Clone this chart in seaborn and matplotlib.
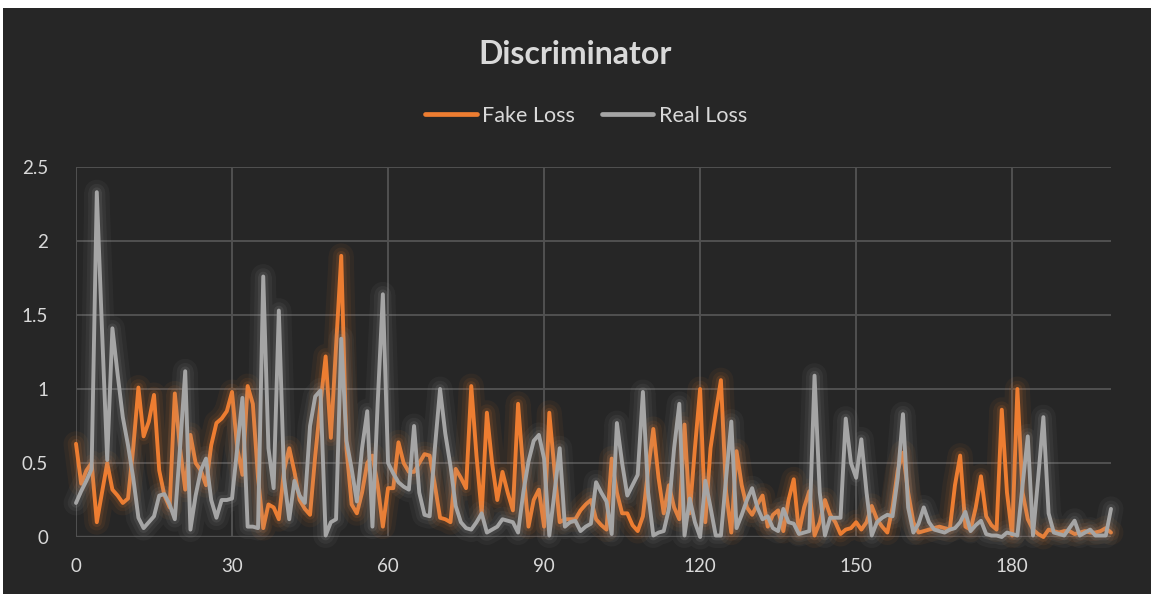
import numpy as np
import pandas as pd
import matplotlib
matplotlib.use("Agg")
import matplotlib.pyplot as plt
import matplotlib.patheffects as pe
from matplotlib.patches import Rectangle
import seaborn as sns

# values (one per step, 0..199)
fake_loss = [
    0.63, 0.36, 0.45, 0.5, 0.1, 0.3, 0.5, 0.32, 0.28, 0.23,
    0.26, 0.6, 1.01, 0.68, 0.78, 0.96, 0.45, 0.28, 0.2, 0.97,
    0.6, 0.32, 0.69, 0.5, 0.45, 0.35, 0.62, 0.77, 0.8, 0.85,
    0.98, 0.6, 0.42, 1.02, 0.9, 0.4, 0.06, 0.22, 0.2, 0.12,
    0.45, 0.6, 0.44, 0.25, 0.19, 0.15, 0.55, 0.9, 1.22, 0.67,
    1.28, 1.9, 0.6, 0.22, 0.16, 0.3, 0.5, 0.55, 0.35, 0.07,
    0.33, 0.33, 0.64, 0.5, 0.44, 0.44, 0.5, 0.56, 0.55, 0.35,
    0.13, 0.12, 0.1, 0.46, 0.4, 0.33, 1.02, 0.55, 0.16, 0.84,
    0.5, 0.25, 0.44, 0.3, 0.18, 0.9, 0.45, 0.07, 0.25, 0.32,
    0.07, 0.84, 0.45, 0.1, 0.12, 0.12, 0.12, 0.18, 0.22, 0.25,
    0.12, 0.08, 0.05, 0.53, 0.3, 0.16, 0.16, 0.08, 0.04, 0.14,
    0.45, 0.73, 0.4, 0.16, 0.35, 0.2, 0.12, 0.76, 0.16, 0.6,
    1.0, 0.1, 0.6, 0.84, 1.06, 0.3, 0.03, 0.58, 0.35, 0.2,
    0.15, 0.22, 0.28, 0.07, 0.15, 0.18, 0.04, 0.25, 0.39, 0.03,
    0.2, 0.31, 0.01, 0.1, 0.25, 0.15, 0.1, 0.02, 0.05, 0.06,
    0.1, 0.05, 0.1, 0.21, 0.12, 0.07, 0.03, 0.2, 0.45, 0.57,
    0.3, 0.1, 0.03, 0.04, 0.05, 0.06, 0.07, 0.06, 0.05, 0.35,
    0.55, 0.07, 0.05, 0.2, 0.41, 0.14, 0.08, 0.05, 0.86, 0.3,
    0.01, 1.0, 0.3, 0.12, 0.05, 0.02, 0.0, 0.05, 0.04, 0.03,
    0.04, 0.04, 0.02, 0.03, 0.04, 0.03, 0.03, 0.04, 0.06, 0.03,
]
real_loss = [
    0.23, 0.31, 0.38, 0.46, 2.33, 1.4, 0.52, 1.41, 1.1, 0.81,
    0.62, 0.4, 0.13, 0.06, 0.1, 0.14, 0.28, 0.29, 0.22, 0.12,
    0.6, 1.12, 0.05, 0.28, 0.45, 0.53, 0.25, 0.13, 0.25, 0.25,
    0.26, 0.6, 0.94, 0.07, 0.07, 0.06, 1.76, 0.6, 0.33, 1.53,
    0.4, 0.12, 0.38, 0.28, 0.23, 0.75, 0.95, 0.99, 0.01, 0.1,
    0.12, 1.34, 0.65, 0.46, 0.24, 0.6, 0.85, 0.07, 0.9, 1.64,
    0.5, 0.43, 0.37, 0.34, 0.32, 0.75, 0.3, 0.15, 0.14, 0.6,
    1.0, 0.7, 0.48, 0.21, 0.1, 0.06, 0.05, 0.1, 0.16, 0.03,
    0.05, 0.07, 0.12, 0.11, 0.1, 0.03, 0.3, 0.51, 0.65, 0.69,
    0.53, 0.01, 0.3, 0.6, 0.07, 0.1, 0.11, 0.04, 0.07, 0.09,
    0.37, 0.3, 0.24, 0.02, 0.77, 0.5, 0.28, 0.35, 0.42, 0.98,
    0.3, 0.01, 0.03, 0.04, 0.19, 0.6, 0.9, 0.01, 0.26, 0.1,
    0.0, 0.38, 0.2, 0.01, 0.01, 0.4, 0.78, 0.06, 0.15, 0.25,
    0.33, 0.2, 0.12, 0.14, 0.06, 0.04, 0.19, 0.1, 0.09, 0.02,
    0.03, 0.04, 1.09, 0.3, 0.01, 0.13, 0.13, 0.13, 0.8, 0.5,
    0.4, 0.66, 0.3, 0.01, 0.1, 0.13, 0.15, 0.14, 0.4, 0.83,
    0.2, 0.03, 0.09, 0.2, 0.1, 0.05, 0.04, 0.03, 0.05, 0.06,
    0.1, 0.17, 0.04, 0.08, 0.11, 0.02, 0.01, 0.01, 0.0, 0.03,
    0.02, 0.01, 0.35, 0.68, 0.01, 0.4, 0.81, 0.16, 0.03, 0.02,
    0.01, 0.06, 0.11, 0.01, 0.03, 0.05, 0.01, 0.01, 0.01, 0.19,
]
steps = list(range(len(fake_loss)))
series_names = ["Fake Loss", "Real Loss"]
x_ticks = [0, 30, 60, 90, 120, 150, 180]
y_ticks = [0, 0.5, 1, 1.5, 2, 2.5]
y_tick_labels = ["0", "0.5", "1", "1.5", "2", "2.5"]

BG = "#262626"
GRID = "#515151"
TEXT = "#d9d9d9"
COLORS = {"Fake Loss": "#ed7d31", "Real Loss": "#a5a5a5"}

df = pd.concat([
    pd.DataFrame({"step": steps, "loss": fake_loss, "series": series_names[0]}),
    pd.DataFrame({"step": steps, "loss": real_loss, "series": series_names[1]}),
])

sns.set_theme(style="dark")
plt.rcParams["font.family"] = ["Lato", "DejaVu Sans"]

fig = plt.figure(figsize=(11.51, 5.94), dpi=100)
fig.patch.set_facecolor("white")
# dark chart area inside a thin white frame
fig.add_artist(Rectangle((3 / 1151, 0), 1, 1 - 8 / 594, transform=fig.transFigure,
                         facecolor=BG, edgecolor="none", zorder=-10))

ax = fig.add_axes([76 / 1151, 1 - 537 / 594, (1111 - 76) / 1151, (537 - 167) / 594])
ax.set_facecolor(BG)

sns.lineplot(data=df, x="step", y="loss", hue="series", palette=COLORS,
             linewidth=2.8, ax=ax, legend=False, sort=False)

# soft glow similar to the spreadsheet effect
for line in ax.get_lines():
    c = line.get_color()
    line.set_clip_on(False)
    line.set_solid_joinstyle("round")
    line.set_path_effects([
        pe.Stroke(linewidth=18, foreground=c, alpha=0.06),
        pe.Stroke(linewidth=12, foreground=c, alpha=0.08),
        pe.Stroke(linewidth=7, foreground=c, alpha=0.12),
        pe.Normal(),
    ])

ax.set_xlim(0, len(steps) - 1)
ax.set_ylim(0, 2.5)
ax.set_xticks(x_ticks)
ax.set_yticks(y_ticks)
ax.set_yticklabels(y_tick_labels)
ax.grid(True, color=GRID, linewidth=1.4)
ax.set_axisbelow(True)
for s in ax.spines.values():
    s.set_visible(False)
ax.axhline(0, color="#6a6a6a", linewidth=1.6, zorder=0)
ax.tick_params(axis="both", length=0, colors=TEXT, labelsize=13.5)
ax.tick_params(axis="x", pad=15)
ax.tick_params(axis="y", pad=20)
ax.set_xlabel("")
ax.set_ylabel("")

fig.text(0.5, 1 - 54 / 594, "Discriminator", ha="center", va="center",
         fontsize=23, fontweight="bold", color=TEXT)

handles = [plt.Line2D([], [], color=COLORS[n], linewidth=3.4) for n in series_names]
fig.legend(handles, series_names, loc="center", bbox_to_anchor=(586 / 1151, 1 - 116 / 594),
           ncol=2, frameon=False, fontsize=15.5, labelcolor=TEXT,
           handlelength=2.4, handletextpad=0.25, columnspacing=1.25)

fig.savefig("out.png", dpi=100, facecolor=fig.get_facecolor())
